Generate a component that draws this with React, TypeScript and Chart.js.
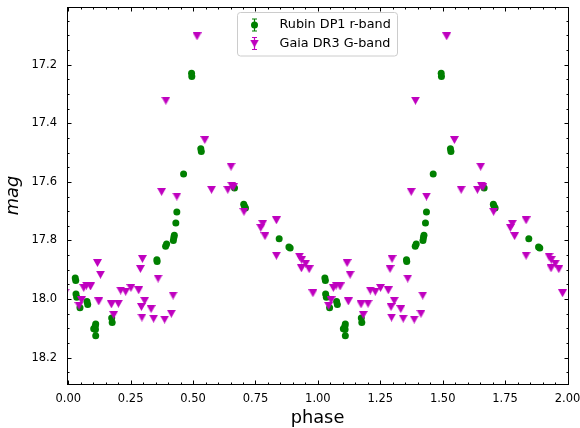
import React, { useEffect, useRef } from "react";
import { Chart, registerables } from "chart.js";

Chart.register(...registerables);

// ---- data (phase over one cycle; plotted twice, phase and phase + 1) ----
const rubinPhase = [
  0.028, 0.030, 0.031, 0.034, 0.047, 0.075, 0.078, 0.102, 0.108, 0.110, 0.109, 0.110,
  0.174, 0.176, 0.355, 0.356, 0.390, 0.394, 0.421, 0.423, 0.425, 0.431, 0.435, 0.462,
  0.494, 0.495, 0.531, 0.533, 0.666, 0.703, 0.706, 0.710, 0.845, 0.884, 0.889,
];
const rubinMag = [
  17.928, 17.937, 17.983, 17.994, 18.030, 18.008, 18.019, 18.101, 18.093, 18.085, 18.104, 18.125,
  18.065, 18.080, 17.866, 17.872, 17.820, 17.812, 17.800, 17.790, 17.782, 17.740, 17.703, 17.573,
  17.229, 17.240, 17.487, 17.496, 17.621, 17.676, 17.683, 17.689, 17.794, 17.822, 17.826,
];

const gaiaPhase = [
  0.117, 0.129, 0.297, 0.289, 0.360, 0.062, 0.073, 0.089, 0.210, 0.230, 0.251, 0.282,
  0.420, 0.053, 0.043, 0.122, 0.173, 0.201, 0.306, 0.293, 0.332, 0.182, 0.295, 0.342,
  0.386, 0.413, 0.516, 0.391, 0.547, 0.652, 0.374, 0.435, 0.574, 0.639, 0.655, 0.661,
  0.704, 0.779, 0.771, 0.834, 0.788, 0.834, 0.926, 0.935, 0.951, 0.934, 0.965, 0.980,
];
const gaiaMag = [
  17.877, 17.917, 17.863, 17.897, 17.930, 17.962, 17.954, 17.957, 17.971, 17.975, 17.962, 17.970,
  17.988, 18.004, 18.023, 18.008, 18.018, 18.016, 18.006, 18.027, 18.034, 18.054, 18.063, 18.067,
  18.070, 18.050, 17.103, 17.323, 17.457, 17.548, 17.634, 17.650, 17.627, 17.627, 17.613, 17.618,
  17.702, 17.743, 17.757, 17.731, 17.785, 17.852, 17.855, 17.866, 17.879, 17.895, 17.898, 17.980,
];
// point just left of phase 0, partly visible at the left edge
const gaiaEdgePhase = [-0.013];
const gaiaEdgeMag = [17.978];

const cycles = [0, 1];
const xMajorTicks = [0, 0.25, 0.5, 0.75, 1.0, 1.25, 1.5, 1.75, 2.0];
const yMajorTicks = [17.2, 17.4, 17.6, 17.8, 18.0, 18.2];
const xRange = [-0.005, 2.002];
const yRange = [17.003, 18.29];
const seriesLabels = ["Rubin DP1 r-band", "Gaia DR3 G-band"];
const axisTitles = { x: "phase", y: "mag" };

const GREEN = "#008000";
const MAGENTA = "#bf00bf";
const FONT = "'DejaVu Sans', sans-serif";

function folded(phases: number[], mags: number[]) {
  const pts: { x: number; y: number }[] = [];
  cycles.forEach((c) => phases.forEach((p, i) => pts.push({ x: p + c, y: mags[i] })));
  return pts;
}

function makeTriangle(w: number, h: number, color: string) {
  const c = document.createElement("canvas");
  c.width = w;
  c.height = h;
  const g = c.getContext("2d")!;
  g.fillStyle = color;
  g.beginPath();
  g.moveTo(0, 0);
  g.lineTo(w, 0);
  g.lineTo(w / 2, h);
  g.closePath();
  g.fill();
  return c;
}

export default function App() {
  const ref = useRef<HTMLCanvasElement | null>(null);

  useEffect(() => {
    document.body.style.margin = "0";
    const canvas = ref.current!;
    const tri = makeTriangle(9, 8, MAGENTA);

    const gaiaPts = folded(gaiaPhase, gaiaMag).concat(
      gaiaEdgePhase.map((p, i) => ({ x: p, y: gaiaEdgeMag[i] }))
    );
    const rubinPts = folded(rubinPhase, rubinMag);

    const framePlugin = {
      id: "frameTicksLegend",
      afterDraw(chart: any) {
        const ctx = chart.ctx as CanvasRenderingContext2D;
        const a = chart.chartArea;
        const xs = chart.scales.x;
        const ys = chart.scales.y;
        const L = Math.round(a.left) + 0.5;
        const R = Math.round(a.right) + 0.5;
        const T = Math.round(a.top) + 0.5;
        const B = Math.round(a.bottom) + 0.5;
        ctx.save();
        ctx.strokeStyle = "#000";
        ctx.lineWidth = 1;
        ctx.strokeRect(L, T, R - L, B - T);

        const near = (v: number, arr: number[]) => arr.some((t) => Math.abs(t - v) < 1e-6);
        ctx.beginPath();
        // x ticks (major + minor), bottom and top, pointing inward
        for (let i = 0; i <= 40; i++) {
          const v = Math.round(i * 5) / 100;
          if (v < xRange[0] || v > xRange[1]) continue;
          const len = near(v, xMajorTicks) ? 4 : 2;
          const px = Math.round(xs.getPixelForValue(v)) + 0.5;
          ctx.moveTo(px, B);
          ctx.lineTo(px, B - len);
          ctx.moveTo(px, T);
          ctx.lineTo(px, T + len);
        }
        // y ticks (major + minor), left and right, pointing inward
        for (let i = 0; i <= 26; i++) {
          const v = Math.round((17.0 + i * 0.05) * 100) / 100;
          if (v < yRange[0] || v > yRange[1]) continue;
          const len = near(v, yMajorTicks) ? 4 : 2;
          const py = Math.round(ys.getPixelForValue(v)) + 0.5;
          ctx.moveTo(L, py);
          ctx.lineTo(L + len, py);
          ctx.moveTo(R, py);
          ctx.lineTo(R - len, py);
        }
        ctx.stroke();

        // legend (upper center)
        const boxW = 160;
        const boxH = 43.5;
        const cx = (a.left + a.right) / 2;
        const bx = Math.round(cx - boxW / 2) - 0.5;
        const by = a.top + 5.5;
        ctx.beginPath();
        (ctx as any).roundRect(bx, by, boxW, boxH, 3);
        ctx.fillStyle = "rgba(255,255,255,0.8)";
        ctx.fill();
        ctx.strokeStyle = "#cccccc";
        ctx.stroke();

        const mx = bx + 17;
        const rows = [by + 12.5, by + 31];
        const colors = [GREEN, MAGENTA];
        rows.forEach((ry, k) => {
          ctx.strokeStyle = colors[k];
          ctx.lineWidth = 1.2;
          ctx.beginPath();
          ctx.moveTo(mx, ry - 6);
          ctx.lineTo(mx, ry + 6);
          ctx.moveTo(mx - 2.5, ry - 6);
          ctx.lineTo(mx + 2.5, ry - 6);
          ctx.moveTo(mx - 2.5, ry + 6);
          ctx.lineTo(mx + 2.5, ry + 6);
          ctx.stroke();
          if (k === 0) {
            ctx.fillStyle = GREEN;
            ctx.beginPath();
            ctx.arc(mx, ry, 3.5, 0, Math.PI * 2);
            ctx.fill();
          } else {
            ctx.drawImage(tri, mx - 4.5, ry - 4);
          }
          ctx.fillStyle = "#000";
          ctx.font = `12.8px ${FONT}`;
          ctx.textBaseline = "middle";
          ctx.textAlign = "left";
          ctx.fillText(seriesLabels[k], bx + 42, ry);
        });
        ctx.restore();
      },
    };

    const chart = new Chart(canvas, {
      type: "scatter",
      data: {
        datasets: [
          {
            label: seriesLabels[1],
            data: gaiaPts,
            pointStyle: tri as any,
            pointRadius: 4.5,
            pointHoverRadius: 4.5,
            borderWidth: 0,
            backgroundColor: MAGENTA,
            clip: 0 as any,
            order: 0,
          },
          {
            label: seriesLabels[0],
            data: rubinPts,
            pointStyle: "circle",
            pointRadius: 3.5,
            pointHoverRadius: 3.5,
            borderWidth: 0,
            backgroundColor: GREEN,
            clip: 0 as any,
            order: 1,
          },
        ],
      },
      options: {
        animation: false,
        responsive: false,
        devicePixelRatio: 1,
        layout: { padding: { left: 0, right: 12, top: 7, bottom: 0 } },
        plugins: { legend: { display: false }, tooltip: { enabled: false } },
        scales: {
          x: {
            type: "linear",
            min: xRange[0],
            max: xRange[1],
            grid: { display: false, drawTicks: false },
            border: { display: false },
            afterBuildTicks: (s: any) => {
              s.ticks = xMajorTicks.map((v) => ({ value: v }));
            },
            afterFit: (s: any) => {
              s.height = 44;
              s.paddingLeft = 0;
              s.paddingRight = 0;
            },
            ticks: {
              padding: 8,
              color: "#000",
              font: { family: FONT, size: 11.5 },
              maxRotation: 0,
              callback: (v: any) => Number(v).toFixed(2),
            },
            title: {
              display: true,
              text: axisTitles.x,
              color: "#000",
              font: { family: FONT, size: 17.8, lineHeight: 1.0 },
              padding: { top: 0, bottom: 0.5 },
            },
          },
          y: {
            type: "linear",
            reverse: true,
            min: yRange[0],
            max: yRange[1],
            grid: { display: false, drawTicks: false },
            border: { display: false },
            afterBuildTicks: (s: any) => {
              s.ticks = yMajorTicks.map((v) => ({ value: v }));
            },
            afterFit: (s: any) => {
              s.width = 67;
              s.paddingTop = 0;
              s.paddingBottom = 0;
            },
            ticks: {
              padding: 10,
              color: "#000",
              font: { family: FONT, size: 11.5 },
              callback: (v: any) => Number(v).toFixed(1),
            },
            title: {
              display: true,
              text: axisTitles.y,
              color: "#000",
              font: { family: FONT, size: 17.8, style: "italic" },
              padding: { top: 3, bottom: 0 },
            },
          },
        },
      },
      plugins: [framePlugin],
    });
    return () => chart.destroy();
  }, []);

  return (
    <canvas
      ref={ref}
      width={580}
      height={428}
      style={{ display: "block", width: 580, height: 428, position: "absolute", left: 0, top: 0 }}
    />
  );
}
